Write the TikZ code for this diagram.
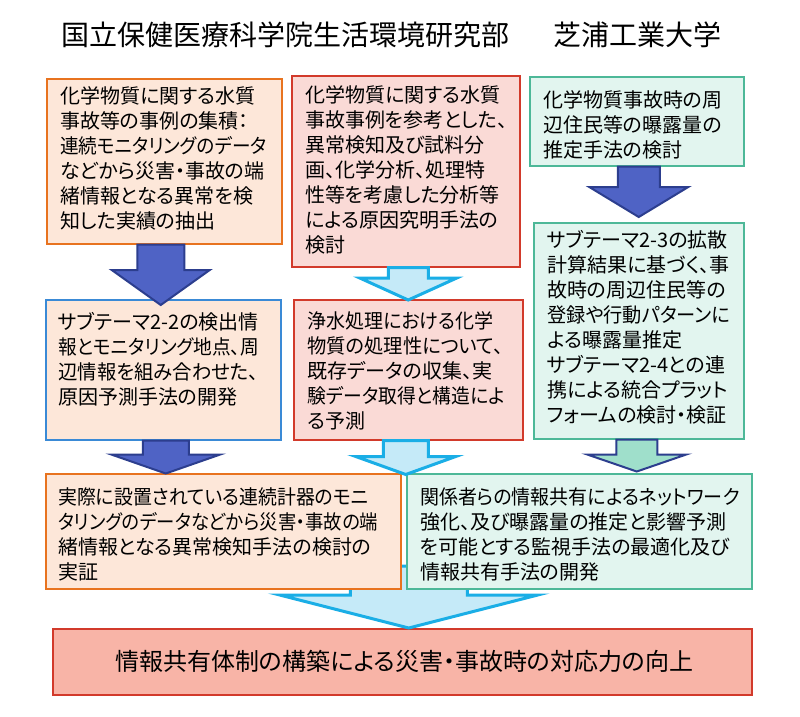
\documentclass[tikz,border=0pt]{standalone}
\usepackage{fontspec}
\usepackage{graphicx}
\setmainfont{Noto Sans CJK JP}[RawFeature=+palt]
\usetikzlibrary{calc}
\definecolor{peach}{HTML}{FDE7D9}
\definecolor{orangeline}{HTML}{E8731F}
\definecolor{blueline}{HTML}{3A8AD6}
\definecolor{pinkfill}{HTML}{FADAD6}
\definecolor{redline}{HTML}{D23A2B}
\definecolor{greenfill}{HTML}{E2F5EF}
\definecolor{greenline}{HTML}{4DB898}
\definecolor{salmon}{HTML}{F8B4A7}
\definecolor{arrowblue}{HTML}{4F63C5}
\definecolor{arrowdark}{HTML}{2C3E8E}
\definecolor{cyanfill}{HTML}{C5EAF8}
\definecolor{cyanline}{HTML}{1AAEE6}
\definecolor{mintfill}{HTML}{9FDFCB}
\newcommand\sq[2]{\scalebox{#1}[1]{#2}}
\tikzset{
  box/.style={rectangle, inner sep=0pt, line width=1.5pt, anchor=north west},
  boxA/.style={box, draw=orangeline, fill=peach},
  boxAb/.style={box, draw=blueline, fill=peach},
  boxB/.style={box, draw=redline, fill=pinkfill},
  boxC/.style={box, draw=greenline, fill=greenfill},
  boxF/.style={box, draw=redline, fill=salmon},
  txt/.style={inner sep=0pt, anchor=north west, align=left, font=\fontsize{20pt}{25pt}\selectfont},
  head/.style={inner sep=0pt, anchor=base west, font=\fontsize{28pt}{34pt}\selectfont},
  bluearrow/.style={fill=arrowblue, draw=arrowdark, line width=2pt, line join=miter},
  cyanarrow/.style={fill=cyanfill, draw=cyanline, line width=3pt, line join=miter},
  mintarrow/.style={fill=mintfill, draw=arrowdark, line width=2pt, line join=miter},
}
% #1 style, #2 top coordinate (y used), #3 tip coordinate, #4 shaft half width, #5 head half width, #6 head length
\newcommand\blockarrow[6]{%
  \path[#1] let \p1=#2, \p2=#3 in
    (\x2-#4,\y1) -- (\x2+#4,\y1) -- (\x2+#4,\y2+#6) -- (\x2+#5,\y2+#6) --
    (\x2,\y2) -- (\x2-#5,\y2+#6) -- (\x2-#4,\y2+#6) -- cycle;}
\begin{document}
\begin{tikzpicture}[x=1pt, y=-1pt]
\useasboundingbox[fill=white] (0,0) rectangle (800,716);

% headers
\node[head] (h1) at (61,45) {国立保健医療科学院生活環境研究部};
\node[head] (h2) at (553,45) {芝浦工業大学};

% bottom box and big arrow behind row 3
\node[boxF, minimum width=699pt, minimum height=66pt] (bot) at (52,628) {};
\node[inner sep=0pt, font=\fontsize{24pt}{28pt}\selectfont] (bott) at ($(bot.center)+(2,0)$) {情報共有体制の構築による災害・事故時の対応力の向上};
\blockarrow{cyanarrow}{($(bot.north)+(0,-62)$)}{($(bot.north)+(6.5,0)$)}{58.5pt}{129pt}{33pt}

% boxes row 1
\node[boxA, minimum width=235pt, minimum height=165pt] (a1) at (46,78) {};
\node[txt] (a1t) at ($(a1.north west)+(14,8)$) {化学物質に関する水質\\事故等の事例の集積：\\\sq{0.93}{連続モニタリングのデータ}\\などから災害・事故の端\\緒情報となる異常を検\\知した実績の抽出};
\node[boxB, minimum width=228pt, minimum height=191pt] (b1) at (291,75) {};
\node[txt] (b1t) at ($(b1.north west)+(14,10)$) {化学物質に関する水質\\事故事例を参考とした、\\異常検知及び試料分\\画、化学分析、処理特\\性等を考慮した分析等\\による原因究明手法の\\検討};
\node[boxC, minimum width=214pt, minimum height=89pt] (c1) at (529,76) {};
\node[txt] (c1t) at ($(c1.north west)+(14,14)$) {化学物質事故時の周\\辺住民等の曝露量の\\推定手法の検討};

% row 2
\node[boxAb, minimum width=235pt, minimum height=140pt] (a2) at (45,299) {};
\node[txt] (a2t) at ($(a2.north west)+(13,13)$) {サブテーマ2-2の検出情\\\sq{0.935}{報とモニタリング地点、周}\\\sq{0.97}{辺情報を組み合わせた、}\\原因予測手法の開発};
\node[boxB, minimum width=229pt, minimum height=140pt] (b2) at (293,299) {};
\node[txt] (b2t) at ($(b2.north west)+(14,12)$) {\sq{0.95}{浄水処理における化学}\\\sq{0.965}{物質の処理性について、}\\既存データの収集、実\\\sq{0.94}{験データ取得と構造によ}\\る予測};
\node[boxC, minimum width=210pt, minimum height=216pt] (c2) at (533,222) {};
\node[txt] (c2t) at ($(c2.north west)+(14,8)$) {サブテーマ2-3の拡散\\計算結果に基づく、事\\故時の周辺住民等の\\\sq{0.96}{登録や行動パターンに}\\よる曝露量推定\\サブテーマ2-4との連\\携による統合プラット\\フォームの検討・検証};

% row 3
\node[boxA, minimum width=355pt, minimum height=115pt] (a3) at (45,473) {};
\node[txt] (a3t) at ($(a3.north west)+(13,14)$) {\sq{0.945}{実際に設置されている連続計器のモニ}\\\sq{0.917}{タリングのデータなどから災害・事故の端}\\緒情報となる異常検知手法の検討の\\実証};
\node[boxC, minimum width=345pt, minimum height=115pt] (c3) at (406,473) {};
\node[txt] (c3t) at ($(c3.north west)+(14,14)$) {\sq{0.95}{関係者らの情報共有によるネットワーク}\\強化、及び曝露量の推定と影響予測\\を可能とする監視手法の最適化及び\\情報共有手法の開発};

% arrows
\blockarrow{bluearrow}{(a1.south)}{($(a2.north)+(-2.5,6)$)}{23.5pt}{49pt}{35pt}
\blockarrow{cyanarrow}{(b1.south)}{($(b2.north)+(0,1)$)}{20pt}{48.5pt}{22pt}
\blockarrow{bluearrow}{(c1.south)}{($(c2.north)+(0,-5)$)}{21pt}{49.5pt}{30pt}
\blockarrow{bluearrow}{(a2.south)}{($(a2.south)+(2.5,33)$)}{23pt}{54.5pt}{19pt}
\blockarrow{cyanarrow}{(b2.south)}{($(b2.south)+(-2.5,34)$)}{22.5pt}{50pt}{18pt}
\blockarrow{mintarrow}{(c2.south)}{($(c2.south)+(-2,32)$)}{20.5pt}{49.5pt}{17pt}
\end{tikzpicture}
\end{document}
